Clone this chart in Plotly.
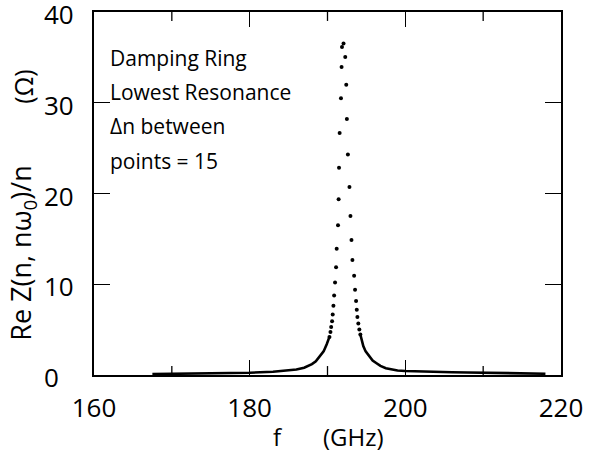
import plotly.graph_objects as go

# Resolved resonance points (GHz, Ohm)
peak_f = [190.25, 190.38, 190.47, 190.59, 190.67, 190.76, 190.85, 190.97, 191.10, 191.18,
          191.35, 191.43, 191.48, 191.56, 191.73, 191.81, 191.86, 192.06,
          192.28, 192.41, 192.49, 192.62, 192.82, 192.95, 193.08, 193.20, 193.42,
          193.54, 193.67, 193.76, 193.84, 193.96, 194.09, 194.22]
peak_v = [4.20, 4.75, 5.29, 5.92, 6.68, 7.62, 8.77, 10.19, 11.87, 13.92,
          16.49, 19.36, 22.83, 26.66, 30.50, 33.94, 36.13, 36.53,
          35.04, 31.97, 28.20, 24.30, 20.71, 17.53, 14.87, 12.68, 10.93,
          9.39, 8.16, 7.20, 6.39, 5.67, 5.01, 4.46]

# Dense tails (points merge into a continuous band)
left_f = [167.5, 170.0, 175.0, 180.0, 183.0, 185.0, 186.0, 187.0, 188.0, 188.5,
          189.0, 189.5, 189.9, 190.1, 190.25]
left_v = [0.10, 0.13, 0.18, 0.25, 0.36, 0.50, 0.60, 0.80, 1.20, 1.50,
          2.00, 2.60, 3.40, 3.90, 4.20]
right_f = [194.22, 194.4, 194.6, 194.9, 195.3, 195.8, 196.3, 196.8, 197.5, 198.3,
           199.0, 200.0, 202.0, 204.0, 206.0, 208.0, 210.0, 212.0, 214.0, 216.0, 218.0]
right_v = [4.46, 3.80, 3.20, 2.60, 2.10, 1.60, 1.30, 1.00, 0.75, 0.60,
           0.50, 0.44, 0.37, 0.33, 0.30, 0.28, 0.25, 0.22, 0.20, 0.17, 0.14]

x_major = [160, 180, 200, 220]
x_minor = [170, 190, 210]
y_ticks = [0, 10, 20, 30, 40]
note_lines = ["Damping Ring", "Lowest Resonance", "Δn between", "points = 15"]

FONT = "Open Sans, DejaVu Sans, sans-serif"
PLOT_H = 365

fig = go.Figure()
fig.add_trace(go.Scatter(x=left_f, y=left_v, mode="lines",
                         line=dict(color="black", width=2.6), hoverinfo="skip"))
fig.add_trace(go.Scatter(x=right_f, y=right_v, mode="lines",
                         line=dict(color="black", width=2.6), hoverinfo="skip"))
fig.add_trace(go.Scatter(x=peak_f, y=peak_v, mode="markers",
                         marker=dict(color="black", size=4)))

fig.update_layout(
    width=593, height=453,
    margin=dict(l=94, r=25, t=10, b=78),
    paper_bgcolor="white", plot_bgcolor="white",
    showlegend=False,
    font=dict(family=FONT, size=24, color="black"),
)
fig.update_xaxes(
    range=[160, 220], tickvals=x_major, ticktext=[str(v) for v in x_major],
    ticks="inside", ticklen=15, tickwidth=1.3, tickcolor="black",
    showline=True, linecolor="black", linewidth=1.5, mirror="ticks",
    showgrid=False, zeroline=False, ticklabelstandoff=9,
    tickfont=dict(family=FONT, size=26),
)
fig.update_yaxes(
    range=[0, 40], tickvals=y_ticks, showticklabels=False,
    ticks="inside", ticklen=16, tickwidth=1.3, tickcolor="black",
    showline=True, linecolor="black", linewidth=1.5, mirror="ticks",
    showgrid=False, zeroline=False,
)

# minor x ticks (bottom and top), placed on the x scale
for v in x_minor:
    for y0, y1 in [(0, 9 / PLOT_H), (1 - 9 / PLOT_H, 1)]:
        fig.add_shape(type="line", xref="x", yref="paper", x0=v, x1=v, y0=y0, y1=y1,
                      line=dict(color="black", width=1.3))

# y tick labels, left aligned as in the reference
for v in y_ticks:
    fig.add_annotation(text=str(v), xref="paper", yref="y",
                       x=-(94 - 41) / 474, y=v, xanchor="left", yanchor="middle",
                       yshift=-2, showarrow=False,
                       font=dict(family=FONT, size=26, color="black"))

for i, t in enumerate(note_lines):
    fig.add_annotation(text=t, xref="paper", yref="paper",
                       x=(108 - 94) / 474, y=1 - (56 + 34.5 * i - 10) / PLOT_H,
                       xanchor="left", yanchor="middle", showarrow=False,
                       font=dict(family=FONT, size=21, color="black"))

# x axis title
fig.add_annotation(text="f", xref="paper", yref="paper",
                   x=(281 - 94) / 474, y=-(437 - 375) / PLOT_H,
                   xanchor="center", yanchor="middle", showarrow=False,
                   font=dict(family=FONT, size=24, color="black"))
fig.add_annotation(text="(GHz)", xref="paper", yref="paper",
                   x=(357 - 94) / 474, y=-(437 - 375) / PLOT_H,
                   xanchor="center", yanchor="middle", showarrow=False,
                   font=dict(family=FONT, size=24, color="black"))
# y axis title
fig.add_annotation(text="Re Z(n, nω<sub>0</sub>)/n", xref="paper", yref="paper",
                   x=-(94 - 22) / 474, y=(375 - 252) / PLOT_H, textangle=-90,
                   xanchor="center", yanchor="middle", showarrow=False,
                   font=dict(family=FONT, size=27, color="black"))
fig.add_annotation(text="(Ω)", xref="paper", yref="paper",
                   x=-(94 - 22) / 474, y=(375 - 85) / PLOT_H, textangle=-90,
                   xanchor="center", yanchor="middle", showarrow=False,
                   font=dict(family=FONT, size=25, color="black"))

fig.write_html("out.html")
